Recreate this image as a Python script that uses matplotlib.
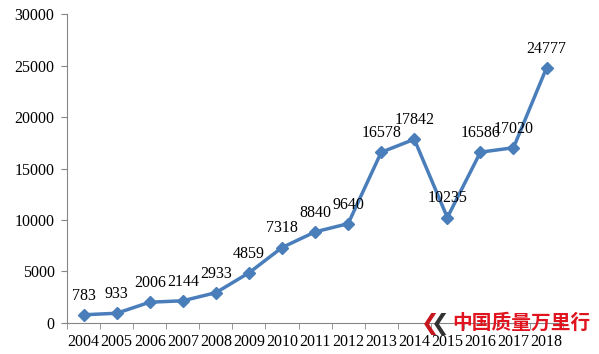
import matplotlib.pyplot as plt
import numpy as np

# Data
years = ['2004', '2005', '2006', '2007', '2008', '2009', '2010', '2011',
         '2012', '2013', '2014', '2015', '2016', '2017', '2018']
values = [783, 933, 2006, 2144, 2933, 4859, 7318, 8840,
          9640, 16578, 17842, 10235, 16586, 17020, 24777]

plt.rcParams['font.family'] = ['Liberation Serif', 'DejaVu Serif']

fig = plt.figure(figsize=(5.99, 3.54), dpi=100)
ax = fig.add_axes([0.112, 0.088, 0.828, 0.872])

x = np.arange(len(years))
line_color = '#4A7EBB'
ax.plot(x, values, color=line_color, linewidth=2.5, marker='D', markersize=6,
        markeredgecolor=line_color, markerfacecolor=line_color, zorder=3)

for xi, v in zip(x, values):
    ax.annotate(str(v), (xi, v), xytext=(0, 8), textcoords='offset points',
                ha='center', va='bottom', fontsize=11.5, color='#000000')

ax.set_xlim(-0.5, len(years) - 0.5)
ax.set_ylim(0, 30000)
ax.set_yticks(np.arange(0, 30001, 5000))
ax.tick_params(axis='y', labelsize=11.5, length=4, color='#868686', pad=5)

# category labels at centres, tick marks between categories
ax.set_xticks(x)
ax.set_xticklabels(years)
ax.set_xticks(np.arange(-0.5, len(years), 1), minor=True)
ax.tick_params(axis='x', which='major', length=0, labelsize=11.5, pad=8)
ax.tick_params(axis='x', which='minor', length=4, color='#868686')

for side in ['top', 'right']:
    ax.spines[side].set_visible(False)
for side in ['left', 'bottom']:
    ax.spines[side].set_color('#868686')
    ax.spines[side].set_linewidth(0.8)

# watermark
fig.text(0.718, 0.085, '❮', color='#C8161D', fontsize=16, ha='center', va='center',
         family=['DejaVu Sans'], fontweight='bold')
fig.text(0.735, 0.085, '❮', color='#333333', fontsize=16, ha='center', va='center',
         family=['DejaVu Sans'], fontweight='bold')
fig.text(0.755, 0.087, '中国质量万里行', color='#E0141E', fontsize=14.2,
         ha='left', va='center', family=['Noto Sans CJK SC', 'DejaVu Sans'],
         fontweight='bold')

fig.savefig('out.png', dpi=100)
